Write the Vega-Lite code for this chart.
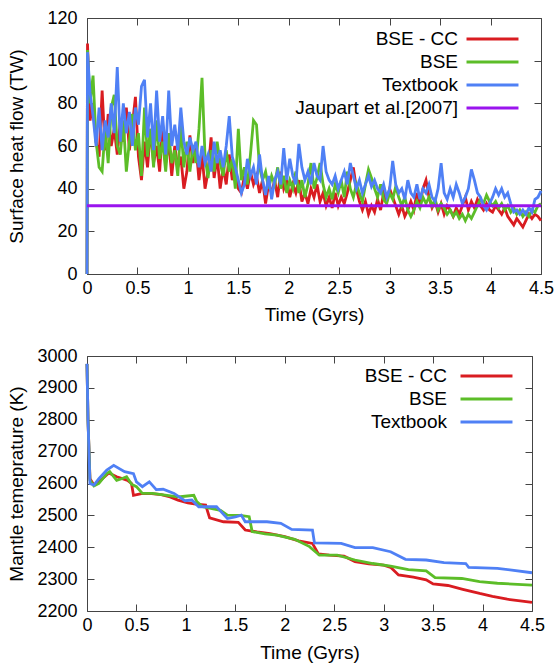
{
  "$schema": "https://vega.github.io/schema/vega-lite/v6.json",
  "padding": {"left": 6, "top": 8, "right": 0, "bottom": 0},
  "background": "white",
  "spacing": 21,
  "config": {
    "font": "Liberation Sans",
    "view": {"stroke": "#444", "strokeWidth": 1},
    "axis": {
      "grid": false,
      "domain": false,
      "tickSize": -7,
      "tickColor": "#444",
      "tickWidth": 1,
      "labelFont": "Liberation Sans",
      "labelFontSize": 18,
      "labelColor": "black",
      "labelOverlap": false,
      "labelFlush": false,
      "titleFont": "Liberation Sans",
      "titleFontSize": 19,
      "titleFontWeight": "normal",
      "titleColor": "black"
    },
    "legend": {
      "orient": "none",
      "title": null,
      "padding": 0,
      "labelFont": "Liberation Sans",
      "labelFontSize": 19,
      "labelColor": "black",
      "labelAlign": "right",
      "labelLimit": 400,
      "symbolType": "M-5,0H5",
      "symbolSize": 108,
      "symbolStrokeWidth": 3,
      "rowPadding": 3
    }
  },
  "resolve": {
    "scale": {"x": "independent", "y": "independent", "color": "independent"},
    "legend": {"color": "independent"}
  },
  "vconcat": [
    {
      "width": 454,
      "height": 256,
      "layer": [
        {
          "data": {"values": [
            {"t":0,"BSE - CC":0,"BSE":0,"Textbook":0},
            {"t":0.005,"BSE - CC":108,"BSE":105,"Textbook":104},
            {"t":0.03,"BSE - CC":72,"BSE":80,"Textbook":85},
            {"t":0.06,"BSE - CC":80,"BSE":93,"Textbook":74},
            {"t":0.09,"BSE - CC":62,"BSE":62,"Textbook":60},
            {"t":0.12,"BSE - CC":55,"BSE":50,"Textbook":78},
            {"t":0.15,"BSE - CC":86,"BSE":48,"Textbook":58},
            {"t":0.18,"BSE - CC":58,"BSE":68,"Textbook":72},
            {"t":0.21,"BSE - CC":75,"BSE":52,"Textbook":64},
            {"t":0.24,"BSE - CC":60,"BSE":78,"Textbook":80},
            {"t":0.27,"BSE - CC":68,"BSE":84,"Textbook":66},
            {"t":0.30,"BSE - CC":56,"BSE":60,"Textbook":97},
            {"t":0.33,"BSE - CC":72,"BSE":56,"Textbook":62},
            {"t":0.36,"BSE - CC":62,"BSE":72,"Textbook":80},
            {"t":0.39,"BSE - CC":78,"BSE":48,"Textbook":66},
            {"t":0.42,"BSE - CC":58,"BSE":62,"Textbook":76},
            {"t":0.45,"BSE - CC":70,"BSE":75,"Textbook":60},
            {"t":0.48,"BSE - CC":83,"BSE":58,"Textbook":78},
            {"t":0.51,"BSE - CC":55,"BSE":66,"Textbook":70},
            {"t":0.54,"BSE - CC":44,"BSE":46,"Textbook":88},
            {"t":0.57,"BSE - CC":62,"BSE":78,"Textbook":91},
            {"t":0.60,"BSE - CC":50,"BSE":55,"Textbook":64},
            {"t":0.63,"BSE - CC":68,"BSE":68,"Textbook":80},
            {"t":0.66,"BSE - CC":52,"BSE":50,"Textbook":58},
            {"t":0.69,"BSE - CC":60,"BSE":72,"Textbook":86},
            {"t":0.72,"BSE - CC":48,"BSE":54,"Textbook":62},
            {"t":0.75,"BSE - CC":70,"BSE":62,"Textbook":74},
            {"t":0.78,"BSE - CC":52,"BSE":48,"Textbook":56},
            {"t":0.81,"BSE - CC":62,"BSE":66,"Textbook":86},
            {"t":0.84,"BSE - CC":46,"BSE":52,"Textbook":60},
            {"t":0.87,"BSE - CC":60,"BSE":58,"Textbook":70},
            {"t":0.90,"BSE - CC":50,"BSE":46,"Textbook":58},
            {"t":0.93,"BSE - CC":55,"BSE":70,"Textbook":78},
            {"t":0.96,"BSE - CC":40,"BSE":50,"Textbook":62},
            {"t":0.99,"BSE - CC":48,"BSE":62,"Textbook":56},
            {"t":1.02,"BSE - CC":65,"BSE":48,"Textbook":64},
            {"t":1.05,"BSE - CC":52,"BSE":60,"Textbook":58},
            {"t":1.08,"BSE - CC":60,"BSE":52,"Textbook":62},
            {"t":1.11,"BSE - CC":44,"BSE":68,"Textbook":50},
            {"t":1.14,"BSE - CC":56,"BSE":92,"Textbook":60},
            {"t":1.17,"BSE - CC":40,"BSE":55,"Textbook":52},
            {"t":1.20,"BSE - CC":48,"BSE":45,"Textbook":56},
            {"t":1.23,"BSE - CC":64,"BSE":58,"Textbook":48},
            {"t":1.26,"BSE - CC":45,"BSE":48,"Textbook":62},
            {"t":1.29,"BSE - CC":55,"BSE":62,"Textbook":52},
            {"t":1.32,"BSE - CC":40,"BSE":52,"Textbook":58},
            {"t":1.35,"BSE - CC":50,"BSE":46,"Textbook":50},
            {"t":1.38,"BSE - CC":42,"BSE":58,"Textbook":60},
            {"t":1.41,"BSE - CC":56,"BSE":48,"Textbook":74},
            {"t":1.44,"BSE - CC":44,"BSE":54,"Textbook":55},
            {"t":1.47,"BSE - CC":50,"BSE":40,"Textbook":50},
            {"t":1.50,"BSE - CC":40,"BSE":68,"Textbook":44},
            {"t":1.53,"BSE - CC":38,"BSE":44,"Textbook":38},
            {"t":1.56,"BSE - CC":46,"BSE":50,"Textbook":42},
            {"t":1.59,"BSE - CC":40,"BSE":42,"Textbook":54},
            {"t":1.62,"BSE - CC":48,"BSE":56,"Textbook":46},
            {"t":1.65,"BSE - CC":42,"BSE":72,"Textbook":50},
            {"t":1.68,"BSE - CC":46,"BSE":70,"Textbook":42},
            {"t":1.71,"BSE - CC":38,"BSE":50,"Textbook":56},
            {"t":1.74,"BSE - CC":44,"BSE":44,"Textbook":44},
            {"t":1.77,"BSE - CC":33,"BSE":48,"Textbook":37},
            {"t":1.80,"BSE - CC":42,"BSE":40,"Textbook":46},
            {"t":1.83,"BSE - CC":38,"BSE":46,"Textbook":35},
            {"t":1.86,"BSE - CC":44,"BSE":42,"Textbook":44},
            {"t":1.89,"BSE - CC":36,"BSE":50,"Textbook":48},
            {"t":1.92,"BSE - CC":48,"BSE":40,"Textbook":42},
            {"t":1.95,"BSE - CC":40,"BSE":46,"Textbook":59},
            {"t":1.98,"BSE - CC":44,"BSE":38,"Textbook":44},
            {"t":2.01,"BSE - CC":36,"BSE":44,"Textbook":54},
            {"t":2.04,"BSE - CC":42,"BSE":40,"Textbook":46},
            {"t":2.07,"BSE - CC":38,"BSE":48,"Textbook":42},
            {"t":2.10,"BSE - CC":44,"BSE":38,"Textbook":61},
            {"t":2.13,"BSE - CC":34,"BSE":44,"Textbook":50},
            {"t":2.16,"BSE - CC":38,"BSE":36,"Textbook":44},
            {"t":2.19,"BSE - CC":33,"BSE":42,"Textbook":48},
            {"t":2.22,"BSE - CC":40,"BSE":52,"Textbook":42},
            {"t":2.25,"BSE - CC":36,"BSE":40,"Textbook":52},
            {"t":2.28,"BSE - CC":42,"BSE":45,"Textbook":46},
            {"t":2.31,"BSE - CC":34,"BSE":52,"Textbook":44},
            {"t":2.34,"BSE - CC":38,"BSE":42,"Textbook":60},
            {"t":2.37,"BSE - CC":32,"BSE":36,"Textbook":48},
            {"t":2.40,"BSE - CC":36,"BSE":40,"Textbook":44},
            {"t":2.43,"BSE - CC":31,"BSE":35,"Textbook":42},
            {"t":2.46,"BSE - CC":38,"BSE":42,"Textbook":46},
            {"t":2.49,"BSE - CC":32,"BSE":38,"Textbook":40},
            {"t":2.52,"BSE - CC":36,"BSE":44,"Textbook":44},
            {"t":2.55,"BSE - CC":33,"BSE":36,"Textbook":48},
            {"t":2.58,"BSE - CC":38,"BSE":48,"Textbook":42},
            {"t":2.61,"BSE - CC":44,"BSE":40,"Textbook":52},
            {"t":2.64,"BSE - CC":50,"BSE":36,"Textbook":46},
            {"t":2.67,"BSE - CC":40,"BSE":42,"Textbook":40},
            {"t":2.70,"BSE - CC":34,"BSE":38,"Textbook":44},
            {"t":2.73,"BSE - CC":30,"BSE":34,"Textbook":38},
            {"t":2.76,"BSE - CC":34,"BSE":42,"Textbook":42},
            {"t":2.79,"BSE - CC":28,"BSE":49,"Textbook":46},
            {"t":2.82,"BSE - CC":32,"BSE":45,"Textbook":41},
            {"t":2.85,"BSE - CC":29,"BSE":40,"Textbook":44},
            {"t":2.88,"BSE - CC":35,"BSE":36,"Textbook":40},
            {"t":2.91,"BSE - CC":30,"BSE":42,"Textbook":38},
            {"t":2.94,"BSE - CC":38,"BSE":35,"Textbook":42},
            {"t":2.97,"BSE - CC":34,"BSE":33,"Textbook":36},
            {"t":3.00,"BSE - CC":40,"BSE":38,"Textbook":40},
            {"t":3.03,"BSE - CC":36,"BSE":35,"Textbook":53},
            {"t":3.06,"BSE - CC":32,"BSE":41,"Textbook":42},
            {"t":3.09,"BSE - CC":28,"BSE":36,"Textbook":38},
            {"t":3.12,"BSE - CC":32,"BSE":32,"Textbook":40},
            {"t":3.15,"BSE - CC":27,"BSE":36,"Textbook":35},
            {"t":3.18,"BSE - CC":30,"BSE":30,"Textbook":44},
            {"t":3.21,"BSE - CC":34,"BSE":27,"Textbook":38},
            {"t":3.24,"BSE - CC":30,"BSE":30,"Textbook":36},
            {"t":3.27,"BSE - CC":38,"BSE":34,"Textbook":42},
            {"t":3.30,"BSE - CC":33,"BSE":31,"Textbook":35},
            {"t":3.33,"BSE - CC":40,"BSE":36,"Textbook":40},
            {"t":3.36,"BSE - CC":44,"BSE":33,"Textbook":38},
            {"t":3.39,"BSE - CC":36,"BSE":36,"Textbook":42},
            {"t":3.42,"BSE - CC":31,"BSE":32,"Textbook":36},
            {"t":3.45,"BSE - CC":34,"BSE":35,"Textbook":34},
            {"t":3.48,"BSE - CC":29,"BSE":30,"Textbook":40},
            {"t":3.51,"BSE - CC":33,"BSE":33,"Textbook":52},
            {"t":3.54,"BSE - CC":28,"BSE":31,"Textbook":38},
            {"t":3.57,"BSE - CC":32,"BSE":28,"Textbook":35},
            {"t":3.60,"BSE - CC":30,"BSE":30,"Textbook":40},
            {"t":3.63,"BSE - CC":27,"BSE":27,"Textbook":36},
            {"t":3.66,"BSE - CC":31,"BSE":29,"Textbook":42},
            {"t":3.69,"BSE - CC":28,"BSE":26,"Textbook":38},
            {"t":3.72,"BSE - CC":32,"BSE":28,"Textbook":33},
            {"t":3.75,"BSE - CC":36,"BSE":25,"Textbook":36},
            {"t":3.78,"BSE - CC":30,"BSE":28,"Textbook":40},
            {"t":3.81,"BSE - CC":34,"BSE":26,"Textbook":49},
            {"t":3.84,"BSE - CC":31,"BSE":29,"Textbook":44},
            {"t":3.87,"BSE - CC":35,"BSE":32,"Textbook":38},
            {"t":3.90,"BSE - CC":32,"BSE":35,"Textbook":36},
            {"t":3.93,"BSE - CC":30,"BSE":33,"Textbook":32},
            {"t":3.96,"BSE - CC":33,"BSE":37,"Textbook":30},
            {"t":3.99,"BSE - CC":30,"BSE":34,"Textbook":33},
            {"t":4.02,"BSE - CC":29,"BSE":32,"Textbook":36},
            {"t":4.05,"BSE - CC":32,"BSE":34,"Textbook":40},
            {"t":4.08,"BSE - CC":30,"BSE":31,"Textbook":37},
            {"t":4.11,"BSE - CC":28,"BSE":33,"Textbook":40},
            {"t":4.14,"BSE - CC":31,"BSE":30,"Textbook":36},
            {"t":4.17,"BSE - CC":27,"BSE":32,"Textbook":38},
            {"t":4.20,"BSE - CC":25,"BSE":29,"Textbook":33},
            {"t":4.23,"BSE - CC":23,"BSE":31,"Textbook":29},
            {"t":4.26,"BSE - CC":26,"BSE":28,"Textbook":30},
            {"t":4.29,"BSE - CC":24,"BSE":30,"Textbook":28},
            {"t":4.32,"BSE - CC":22,"BSE":27,"Textbook":30},
            {"t":4.35,"BSE - CC":25,"BSE":29,"Textbook":28},
            {"t":4.38,"BSE - CC":28,"BSE":27,"Textbook":31},
            {"t":4.41,"BSE - CC":26,"BSE":30,"Textbook":29},
            {"t":4.44,"BSE - CC":28,"BSE":29,"Textbook":35},
            {"t":4.47,"BSE - CC":27,"BSE":32,"Textbook":36},
            {"t":4.50,"BSE - CC":25,"BSE":33,"Textbook":39}
          ]},
          "transform": [{"fold": ["BSE - CC", "BSE", "Textbook"], "as": ["series", "flow"]}],
          "mark": {"type": "line", "strokeWidth": 2.8},
          "encoding": {
            "x": {"field": "t", "type": "quantitative",
              "scale": {"domain": [0, 4.5], "nice": false, "zero": false},
              "axis": {"orient": "bottom", "values": [0,0.5,1,1.5,2,2.5,3,3.5,4,4.5], "format": "~g", "title": "Time (Gyrs)", "titleY": 40, "titleBaseline": "middle", "labelPadding": 12}},
            "y": {"field": "flow", "type": "quantitative",
              "scale": {"domain": [0, 120], "nice": false},
              "axis": {"orient": "left", "values": [0,20,40,60,80,100,120], "format": "d", "title": "Surface heat flow (TW)", "titleX": -71, "titleBaseline": "middle", "labelPadding": 17}},
            "color": {"field": "series", "type": "nominal",
              "scale": {"domain": ["BSE - CC", "BSE", "Textbook", "Jaupart et al.[2007]"], "range": ["#d91c21", "#5cbd28", "#4f80f5", "#9a14ee"]},
              "legend": {"legendX": 396, "legendY": 11.5, "labelOffset": -44}}
          }
        },
        {
          "data": {"values": [
            {"t": 0, "flow": 32, "series": "Jaupart et al.[2007]"},
            {"t": 4.5, "flow": 32, "series": "Jaupart et al.[2007]"}
          ]},
          "mark": {"type": "line", "strokeWidth": 2.8},
          "encoding": {
            "x": {"field": "t", "type": "quantitative",
              "axis": {"orient": "top", "values": [0,0.5,1,1.5,2,2.5,3,3.5,4,4.5], "labels": false, "title": null}},
            "y": {"field": "flow", "type": "quantitative",
              "axis": {"orient": "right", "values": [0,20,40,60,80,100,120], "labels": false, "title": null}},
            "color": {"field": "series", "type": "nominal"}
          }
        }
      ],
      "resolve": {"axis": {"x": "independent", "y": "independent"}}
    },
    {
      "width": 445,
      "height": 255,
      "layer": [
        {
          "data": {"values": [
            {"t":0,"s":"BSE - CC","T":2975},{"t":0.01,"s":"BSE - CC","T":2800},{"t":0.03,"s":"BSE - CC","T":2615},{"t":0.07,"s":"BSE - CC","T":2595},{"t":0.12,"s":"BSE - CC","T":2605},{"t":0.22,"s":"BSE - CC","T":2633},{"t":0.3,"s":"BSE - CC","T":2621},{"t":0.41,"s":"BSE - CC","T":2610},{"t":0.45,"s":"BSE - CC","T":2600},{"t":0.47,"s":"BSE - CC","T":2563},{"t":0.55,"s":"BSE - CC","T":2568},{"t":0.63,"s":"BSE - CC","T":2569},{"t":0.75,"s":"BSE - CC","T":2565},{"t":0.84,"s":"BSE - CC","T":2558},{"t":0.92,"s":"BSE - CC","T":2548},{"t":1.02,"s":"BSE - CC","T":2539},{"t":1.1,"s":"BSE - CC","T":2535},{"t":1.2,"s":"BSE - CC","T":2532},{"t":1.24,"s":"BSE - CC","T":2492},{"t":1.38,"s":"BSE - CC","T":2480},{"t":1.53,"s":"BSE - CC","T":2478},{"t":1.6,"s":"BSE - CC","T":2454},{"t":1.72,"s":"BSE - CC","T":2448},{"t":1.85,"s":"BSE - CC","T":2443},{"t":2.0,"s":"BSE - CC","T":2433},{"t":2.14,"s":"BSE - CC","T":2420},{"t":2.28,"s":"BSE - CC","T":2412},{"t":2.34,"s":"BSE - CC","T":2379},{"t":2.45,"s":"BSE - CC","T":2375},{"t":2.6,"s":"BSE - CC","T":2372},{"t":2.71,"s":"BSE - CC","T":2355},{"t":2.85,"s":"BSE - CC","T":2348},{"t":3.0,"s":"BSE - CC","T":2344},{"t":3.07,"s":"BSE - CC","T":2337},{"t":3.15,"s":"BSE - CC","T":2313},{"t":3.3,"s":"BSE - CC","T":2306},{"t":3.43,"s":"BSE - CC","T":2298},{"t":3.5,"s":"BSE - CC","T":2285},{"t":3.65,"s":"BSE - CC","T":2280},{"t":3.8,"s":"BSE - CC","T":2268},{"t":3.97,"s":"BSE - CC","T":2255},{"t":4.1,"s":"BSE - CC","T":2246},{"t":4.25,"s":"BSE - CC","T":2237},{"t":4.4,"s":"BSE - CC","T":2231},{"t":4.5,"s":"BSE - CC","T":2227},
            {"t":0,"s":"BSE","T":2975},{"t":0.01,"s":"BSE","T":2800},{"t":0.03,"s":"BSE","T":2610},{"t":0.07,"s":"BSE","T":2592},{"t":0.12,"s":"BSE","T":2600},{"t":0.2,"s":"BSE","T":2631},{"t":0.23,"s":"BSE","T":2637},{"t":0.3,"s":"BSE","T":2610},{"t":0.35,"s":"BSE","T":2615},{"t":0.4,"s":"BSE","T":2621},{"t":0.45,"s":"BSE","T":2598},{"t":0.5,"s":"BSE","T":2590},{"t":0.56,"s":"BSE","T":2569},{"t":0.66,"s":"BSE","T":2569},{"t":0.81,"s":"BSE","T":2563},{"t":0.92,"s":"BSE","T":2558},{"t":0.99,"s":"BSE","T":2560},{"t":1.08,"s":"BSE","T":2563},{"t":1.11,"s":"BSE","T":2543},{"t":1.17,"s":"BSE","T":2527},{"t":1.35,"s":"BSE","T":2516},{"t":1.42,"s":"BSE","T":2501},{"t":1.55,"s":"BSE","T":2500},{"t":1.64,"s":"BSE","T":2496},{"t":1.67,"s":"BSE","T":2449},{"t":1.8,"s":"BSE","T":2442},{"t":1.92,"s":"BSE","T":2438},{"t":2.1,"s":"BSE","T":2425},{"t":2.25,"s":"BSE","T":2402},{"t":2.35,"s":"BSE","T":2375},{"t":2.53,"s":"BSE","T":2375},{"t":2.71,"s":"BSE","T":2360},{"t":2.89,"s":"BSE","T":2349},{"t":3.07,"s":"BSE","T":2341},{"t":3.25,"s":"BSE","T":2330},{"t":3.43,"s":"BSE","T":2326},{"t":3.52,"s":"BSE","T":2305},{"t":3.79,"s":"BSE","T":2302},{"t":3.97,"s":"BSE","T":2292},{"t":4.15,"s":"BSE","T":2287},{"t":4.5,"s":"BSE","T":2281}
          ]},
          "mark": {"type": "line", "strokeWidth": 2.8},
          "encoding": {
            "x": {"field": "t", "type": "quantitative",
              "scale": {"domain": [0, 4.5], "nice": false, "zero": false},
              "axis": {"orient": "bottom", "values": [0,0.5,1,1.5,2,2.5,3,3.5,4,4.5], "format": "~g", "title": "Time (Gyrs)", "titleY": 41, "titleBaseline": "middle", "labelPadding": 12}},
            "y": {"field": "T", "type": "quantitative",
              "scale": {"domain": [2200, 3000], "nice": false, "zero": false},
              "axis": {"orient": "left", "values": [2200,2300,2400,2500,2600,2700,2800,2900,3000], "format": "d", "title": "Mantle temeprature (K)", "titleX": -71, "titleBaseline": "middle", "labelPadding": 17}},
            "color": {"field": "s", "type": "nominal",
              "scale": {"domain": ["BSE - CC", "BSE", "Textbook"], "range": ["#d91c21", "#5cbd28", "#4f80f5"]},
              "legend": {"legendX": 390, "legendY": 10.5, "labelOffset": -49}}
          }
        },
        {
          "data": {"values": [
            {"t":0,"s":"Textbook","T":2976},{"t":0.01,"s":"Textbook","T":2800},{"t":0.03,"s":"Textbook","T":2600},{"t":0.07,"s":"Textbook","T":2595},{"t":0.12,"s":"Textbook","T":2615},{"t":0.2,"s":"Textbook","T":2642},{"t":0.27,"s":"Textbook","T":2657},{"t":0.38,"s":"Textbook","T":2637},{"t":0.47,"s":"Textbook","T":2631},{"t":0.5,"s":"Textbook","T":2605},{"t":0.56,"s":"Textbook","T":2590},{"t":0.63,"s":"Textbook","T":2605},{"t":0.66,"s":"Textbook","T":2595},{"t":0.7,"s":"Textbook","T":2581},{"t":0.77,"s":"Textbook","T":2582},{"t":0.88,"s":"Textbook","T":2569},{"t":0.99,"s":"Textbook","T":2546},{"t":1.06,"s":"Textbook","T":2548},{"t":1.13,"s":"Textbook","T":2527},{"t":1.31,"s":"Textbook","T":2527},{"t":1.42,"s":"Textbook","T":2490},{"t":1.5,"s":"Textbook","T":2495},{"t":1.56,"s":"Textbook","T":2501},{"t":1.6,"s":"Textbook","T":2480},{"t":1.82,"s":"Textbook","T":2480},{"t":1.96,"s":"Textbook","T":2475},{"t":2.07,"s":"Textbook","T":2456},{"t":2.28,"s":"Textbook","T":2454},{"t":2.3,"s":"Textbook","T":2414},{"t":2.57,"s":"Textbook","T":2412},{"t":2.71,"s":"Textbook","T":2399},{"t":2.89,"s":"Textbook","T":2399},{"t":3.07,"s":"Textbook","T":2386},{"t":3.22,"s":"Textbook","T":2362},{"t":3.43,"s":"Textbook","T":2360},{"t":3.61,"s":"Textbook","T":2352},{"t":3.83,"s":"Textbook","T":2349},{"t":3.86,"s":"Textbook","T":2337},{"t":4.15,"s":"Textbook","T":2334},{"t":4.5,"s":"Textbook","T":2320}
          ]},
          "mark": {"type": "line", "strokeWidth": 2.8},
          "encoding": {
            "x": {"field": "t", "type": "quantitative",
              "axis": {"orient": "top", "values": [0,0.5,1,1.5,2,2.5,3,3.5,4,4.5], "labels": false, "title": null}},
            "y": {"field": "T", "type": "quantitative",
              "axis": {"orient": "right", "values": [2200,2300,2400,2500,2600,2700,2800,2900,3000], "labels": false, "title": null}},
            "color": {"field": "s", "type": "nominal"}
          }
        }
      ],
      "resolve": {"axis": {"x": "independent", "y": "independent"}}
    }
  ]
}
